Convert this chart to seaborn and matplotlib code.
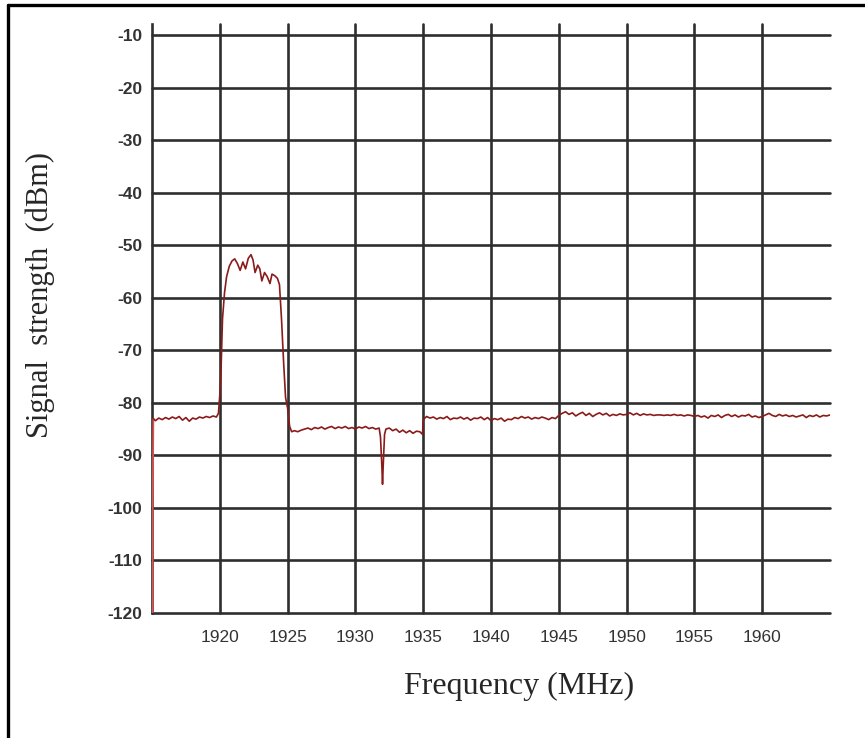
import numpy as np
import pandas as pd
import matplotlib
matplotlib.use("Agg")
import matplotlib.pyplot as plt
from matplotlib.lines import Line2D
import seaborn as sns

# ---------------- data ----------------
lead_freq = [1915.05, 1915.05, 1915.1]
lead_level = [-120.0, -100.0, -83.0]

floor1_freq = [1915.25, 1915.5, 1915.75, 1916.0, 1916.25, 1916.5, 1916.75, 1917.0, 1917.25, 1917.5,
               1917.75, 1918.0, 1918.25, 1918.5, 1918.75, 1919.0, 1919.25, 1919.5, 1919.75]
floor1_level = [-83.4, -82.9, -83.2, -82.8, -83.1, -82.7, -83.0, -82.6, -83.3, -82.8,
                -83.5, -82.9, -83.1, -82.7, -82.9, -82.6, -82.8, -82.5, -82.7]

band_freq = [1919.9, 1920.0, 1920.1, 1920.2, 1920.35, 1920.5, 1920.7, 1920.9, 1921.1, 1921.3,
             1921.5, 1921.7, 1921.9, 1922.1, 1922.3, 1922.45, 1922.6, 1922.8, 1922.95, 1923.1,
             1923.3, 1923.5, 1923.7, 1923.85, 1924.05, 1924.25, 1924.4, 1924.55, 1924.7, 1924.85,
             1925.0, 1925.15, 1925.3]
band_level = [-82.0, -78.5, -73.0, -64.0, -59.0, -56.0, -54.0, -53.0, -52.6, -53.5,
              -54.8, -53.2, -54.5, -52.5, -51.8, -52.8, -55.2, -53.8, -54.5, -56.8,
              -55.2, -56.0, -57.3, -55.5, -55.8, -56.3, -57.5, -64.0, -72.0, -79.0,
              -81.0, -84.5, -85.5]

floor2_freq = [1925.5, 1925.75, 1926.0, 1926.25, 1926.5, 1926.75, 1927.0, 1927.25, 1927.5, 1927.75,
               1928.0, 1928.25, 1928.5, 1928.75, 1929.0, 1929.25, 1929.5, 1929.75, 1930.0, 1930.25,
               1930.5, 1930.75, 1931.0, 1931.25, 1931.5, 1931.75]
floor2_level = [-85.3, -85.5, -85.2, -85.0, -84.8, -85.1, -84.7, -84.9, -84.6, -85.0,
                -84.7, -84.5, -84.9, -84.6, -84.8, -84.5, -84.9, -84.7, -85.0, -84.6,
                -84.8, -84.5, -84.9, -84.7, -85.0, -84.8]

dip_freq = [1931.85, 1931.95, 1932.0, 1932.05, 1932.15, 1932.25]
dip_level = [-86.5, -92.0, -95.5, -92.0, -86.0, -85.0]

floor3_freq = [1932.5, 1932.75, 1933.0, 1933.25, 1933.5, 1933.75, 1934.0, 1934.25, 1934.5, 1934.75,
               1934.95, 1935.0]
floor3_level = [-84.8, -85.3, -85.0, -85.6, -85.2, -85.7, -85.3, -85.8, -85.4, -85.5,
                -86.0, -83.2]

floor4_freq = [1935.25, 1935.5, 1935.75, 1936.0, 1936.25, 1936.5, 1936.75, 1937.0, 1937.25, 1937.5,
               1937.75, 1938.0, 1938.25, 1938.5, 1938.75, 1939.0, 1939.25, 1939.5, 1939.75, 1940.0,
               1940.25, 1940.5, 1940.75, 1941.0, 1941.25, 1941.5, 1941.75, 1942.0, 1942.25, 1942.5,
               1942.75, 1943.0, 1943.25, 1943.5, 1943.75, 1944.0, 1944.25, 1944.5, 1944.75, 1945.0]
floor4_level = [-82.6, -82.9, -82.7, -83.1, -82.8, -83.0, -82.6, -83.2, -82.9, -83.0,
                -82.7, -83.1, -82.8, -83.3, -82.9, -83.0, -82.7, -83.2, -82.8, -83.4,
                -83.0, -83.2, -82.9, -83.5, -83.1, -83.2, -82.8, -83.0, -82.6, -82.9,
                -82.7, -83.1, -82.8, -83.0, -82.7, -82.9, -83.2, -82.8, -83.0, -82.4]

floor5_freq = [1945.25, 1945.5, 1945.75, 1946.0, 1946.25, 1946.5, 1946.75, 1947.0, 1947.25, 1947.5,
               1947.75, 1948.0, 1948.25, 1948.5, 1948.75, 1949.0, 1949.25, 1949.5, 1949.75, 1950.0,
               1950.25, 1950.5, 1950.75, 1951.0, 1951.25, 1951.5, 1951.75, 1952.0, 1952.25, 1952.5,
               1952.75, 1953.0, 1953.25, 1953.5, 1953.75, 1954.0, 1954.25, 1954.5, 1954.75, 1955.0,
               1955.25, 1955.5, 1955.75, 1956.0, 1956.25, 1956.5, 1956.75, 1957.0, 1957.25, 1957.5,
               1957.75, 1958.0, 1958.25, 1958.5, 1958.75, 1959.0, 1959.25, 1959.5, 1959.75, 1960.0,
               1960.25, 1960.5, 1960.75, 1961.0, 1961.25, 1961.5, 1961.75, 1962.0, 1962.25, 1962.5,
               1962.75, 1963.0, 1963.25, 1963.5, 1963.75, 1964.0, 1964.25, 1964.5, 1964.75, 1965.0]
floor5_level = [-82.0, -81.7, -82.2, -81.9, -82.5, -82.1, -81.8, -82.4, -82.0, -82.6,
                -82.2, -81.9, -82.3, -82.0, -82.5, -82.2, -82.4, -82.1, -82.3, -82.2,
                -81.9, -82.3, -82.0, -82.4, -82.1, -82.3, -82.2, -82.4, -82.3, -82.3,
                -82.4, -82.3, -82.4, -82.2, -82.4, -82.3, -82.5, -82.3, -82.4, -82.6,
                -82.4, -82.7, -82.5, -82.9, -82.4, -82.6, -82.3, -82.8, -82.4, -82.2,
                -82.6, -82.3, -82.7, -82.4, -82.5, -82.2, -82.7, -82.5, -82.8, -82.6,
                -82.3, -82.0, -82.4, -82.6, -82.2, -82.5, -82.3, -82.6, -82.4, -82.7,
                -82.5, -82.3, -82.8, -82.4, -82.6, -82.3, -82.7, -82.4, -82.5, -82.3]

x_ticks = [1920, 1925, 1930, 1935, 1940, 1945, 1950, 1955, 1960]
y_ticks = [-120, -110, -100, -90, -80, -70, -60, -50, -40, -30, -20, -10]

# ---------------- build trace ----------------
trace = pd.DataFrame({
    "freq": lead_freq[2:] + floor1_freq + band_freq + floor2_freq + dip_freq
            + floor3_freq + floor4_freq + floor5_freq,
    "level": lead_level[2:] + floor1_level + band_level + floor2_level + dip_level
             + floor3_level + floor4_level + floor5_level,
})
lead = pd.DataFrame({"freq": lead_freq, "level": lead_level})

sns.set_style("white")
plt.rcParams["font.family"] = ["Liberation Sans", "DejaVu Sans"]

fig = plt.figure(figsize=(8.65, 7.38), dpi=100)
ax = fig.add_axes([152 / 865, 1 - 613 / 738, (830 - 152) / 865, (613 - 24) / 738])

grid_col = "#2e2e2e"
grid_lw = 1.9
for yv in y_ticks:
    ax.axhline(yv, color=grid_col, lw=grid_lw, zorder=1, clip_on=False)
for xv in x_ticks:
    ax.axvline(xv, color=grid_col, lw=grid_lw, zorder=1, clip_on=False)

sns.lineplot(data=lead, x="freq", y="level", sort=False, estimator=None,
             color="#d9534f", lw=1.3, ax=ax, zorder=3)
sns.lineplot(data=trace, x="freq", y="level", sort=False, estimator=None,
             color="#8b1a1a", lw=1.2, ax=ax, zorder=4)

ax.set_xlim(1915, 1965)
ax.set_ylim(-120, -7.9)
ax.set_xticks(x_ticks)
ax.set_yticks(y_ticks)
ax.set_xticklabels([str(t) for t in x_ticks], fontsize=12.5, color="#333333")
ax.set_yticklabels([str(t) for t in y_ticks], fontsize=12.5, color="#333333", fontweight="bold")
ax.tick_params(axis="x", length=0, pad=12)
ax.tick_params(axis="y", length=0, pad=7)
ax.set_xlabel("")
ax.set_ylabel("")
for side in ["top", "right", "bottom"]:
    ax.spines[side].set_visible(False)
ax.spines["left"].set_color(grid_col)
ax.spines["left"].set_linewidth(grid_lw)

fig.text(40 / 865, 1 - 295 / 738, "Signal  strength  (dBm)", rotation=90,
         ha="center", va="center", fontsize=22, family=["Liberation Serif", "DejaVu Serif"])
fig.text(519 / 865, 1 - 686 / 738, "Frequency (MHz)",
         ha="center", va="center", fontsize=23, family=["Liberation Serif", "DejaVu Serif"])

# outer frame (top and left edges)
fig.add_artist(Line2D([8 / 865, 1.0], [1 - 5 / 738, 1 - 5 / 738], transform=fig.transFigure,
                      color="black", lw=2.4))
fig.add_artist(Line2D([8 / 865, 8 / 865], [0.0, 1 - 5 / 738], transform=fig.transFigure,
                      color="black", lw=2.4))

fig.savefig("out.png", dpi=100)
